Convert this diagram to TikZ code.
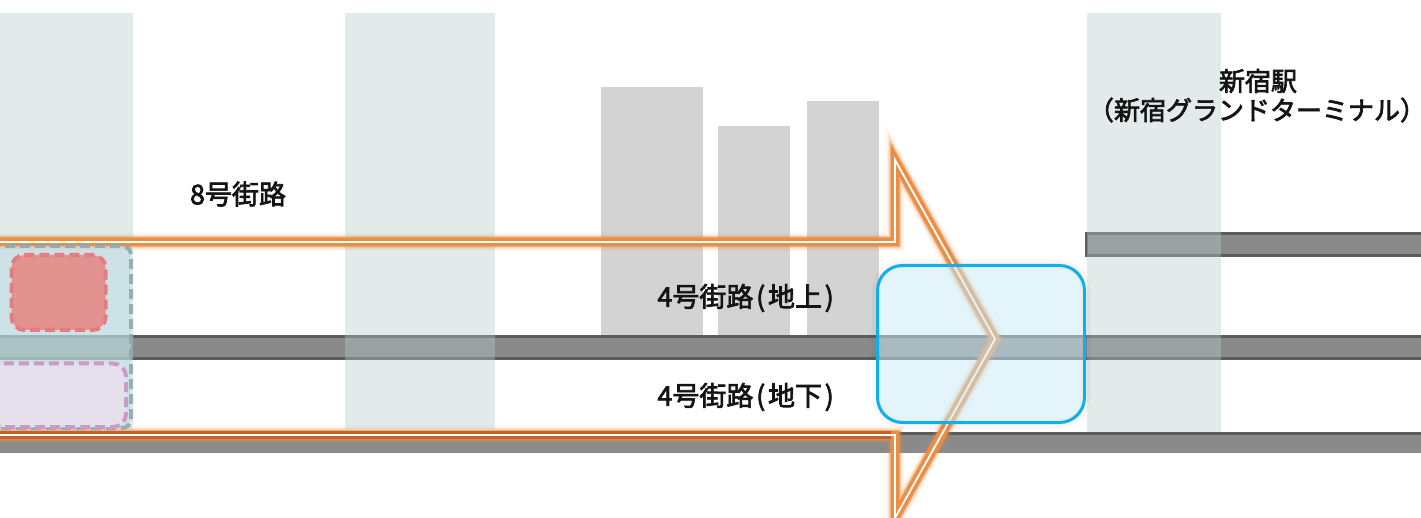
\documentclass[tikz,border=0pt]{standalone}
\usepackage{fontspec}
\setmainfont{Noto Sans CJK JP}
\newfontfamily\lblfont{Noto Sans CJK JP}[FakeBold=2.6]
\definecolor{bandc}{RGB}{182,205,200}
\definecolor{bldc}{RGB}{211,211,211}
\definecolor{roadc}{RGB}{138,138,138}
\definecolor{roadedge}{RGB}{92,92,92}
\definecolor{arrowc}{RGB}{234,142,70}
\definecolor{arrowdark}{RGB}{192,101,42}
\definecolor{bluefill}{RGB}{200,235,247}
\definecolor{blueedge}{RGB}{18,174,233}
\definecolor{tealfill}{RGB}{187,220,228}
\definecolor{tealedge}{RGB}{142,170,176}
\definecolor{redfill}{RGB}{226,147,143}
\definecolor{rededge}{RGB}{232,122,130}
\definecolor{purfill}{RGB}{230,223,236}
\definecolor{puredge}{RGB}{204,154,200}
\newcommand\pp[1]{\hspace{.1em}#1\hspace{.1em}}
\tikzset{
  band/.style={fill=bandc, fill opacity=0.38},
  bld/.style={fill=bldc},
  road/.style={fill=roadc, draw=roadedge, line width=3pt},
  dashbox/.style={line width=4pt, dash pattern=on 10pt off 5pt, rounded corners=13pt},
  lbl/.style={font=\lblfont\fontsize{27}{31}\selectfont, text=black!92, inner sep=0pt, align=center},
  arr/.style={line join=miter},
}
\begin{document}
\begin{tikzpicture}[x=1pt,y=-1pt]
\useasboundingbox (0,0) rectangle (1421,518);
\clip (0,0) rectangle (1421,518);
\fill[white] (0,0) rectangle (1421,518);
% buildings
\fill[bld] (601,87) rectangle (703,337);
\fill[bld] (718,126) rectangle (790,337);
\fill[bld] (807,101) rectangle (879,337);
% roads
\draw[road] (-5,337) rectangle (1430,358.5);
\fill[roadc] (-5,432) rectangle (1430,453);
\draw[roadedge, line width=3pt] (-5,433.5) -- (1430,433.5);
\draw[road] (1086.5,233.5) rectangle (1430,256);
% bands
\fill[band] (0,13) rectangle (133,430);
\fill[band] (345,13) rectangle (495,429);
\fill[band] (1087,13) rectangle (1221,432);
% big arrow
\coordinate (a0) at (-5,242);
\coordinate (a1) at (895,242);
\coordinate (a2) at (895,160);
\coordinate (tip) at (995,339);
\coordinate (a4) at (895,518);
\coordinate (a5) at (895,435);
\coordinate (a6) at (-5,435);
\draw[arr, arrowc, line width=18pt, opacity=0.08] (a0) -- (a1) -- (a2) -- (tip) -- (a4) -- (a5) -- (a6);
\draw[arr, arrowc, line width=14pt, opacity=0.18] (a0) -- (a1) -- (a2) -- (tip) -- (a4) -- (a5) -- (a6);
\draw[arr, arrowc, line width=11pt, opacity=0.5] (a0) -- (a1) -- (a2) -- (tip) -- (a4) -- (a5) -- (a6);
\draw[arr, arrowc, line width=8.5pt] (a0) -- (a1) -- (a2) -- (tip) -- (a4) -- (a5) -- (a6);
\draw[arrowdark, line width=8.5pt] (a6) -- ([xshift=-4pt]a5);
\draw[arr, white, line width=1.8pt] (a0) -- (a1) -- (a2) -- (tip) -- (a4) -- (a5) -- (a6);
% left teal box
\draw[dashbox, rounded corners=9pt, fill=tealfill, fill opacity=0.55, draw=tealedge, draw opacity=0.9] (-10,246) rectangle (131,428);
\draw[dashbox, fill=redfill, draw=rededge] (11.5,255) rectangle (105.5,330);
\draw[dashbox, fill=purfill, draw=puredge] (-10,363.5) rectangle (126,427);
% blue box
\draw[black, line width=9pt, opacity=0.03, rounded corners=28pt] (876,264) rectangle (1086,424);
\draw[line width=3pt, rounded corners=25pt, draw=blueedge, fill=bluefill, fill opacity=0.5] (877.5,265.5) rectangle (1084.5,422.5);
% labels
\node[lbl] (t8) at (238,194) {8号街路};
\node[lbl] (t4u) at (747,298) {4号街路\pp{(}地上\pp{)}};
\node[lbl] (t4d) at (747,397) {4号街路\pp{(}地下\pp{)}};
\node[lbl, font=\lblfont\fontsize{26}{31}\selectfont] (stn1) at (1258,81) {新宿駅};
\node[lbl, font=\lblfont\fontsize{26}{31}\selectfont] (stn2) at (1257,110) {（新宿グランドターミナル）};
\end{tikzpicture}
\end{document}
